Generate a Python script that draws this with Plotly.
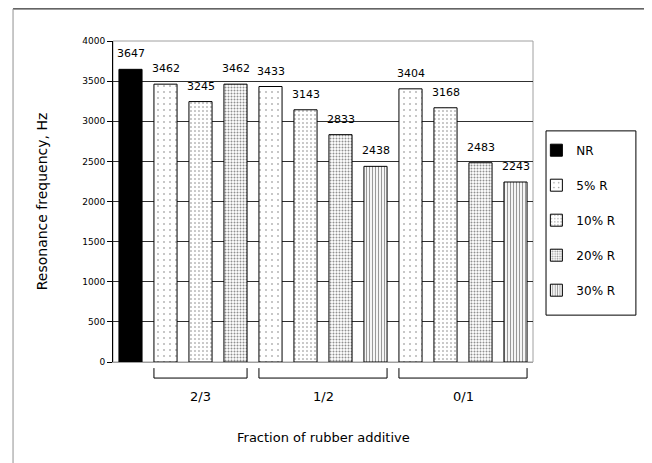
import plotly.graph_objs as go

# data
groups = ["2/3", "1/2", "0/1"]
nr_name = "NR"
nr_value = 3647
r5 = [3462, 3433, 3404]
r10 = [3245, 3143, 3168]
r20 = [3462, 2833, 2483]
r30 = [None, 2438, 2243]
series_names = ["5% R", "10% R", "20% R", "30% R"]
yticks = [0, 500, 1000, 1500, 2000, 2500, 3000, 3500, 4000]

series_values = [r5, r10, r20, r30]
patterns = [
    dict(shape=".", size=6, solidity=0.06, fgcolor="black", bgcolor="white"),
    dict(shape=".", size=4, solidity=0.12, fgcolor="black", bgcolor="white"),
    dict(shape=".", size=3, solidity=0.35, fgcolor="#222222", bgcolor="white"),
    dict(shape="|", size=3, solidity=0.4, fgcolor="#333333", bgcolor="white"),
]

# build the slot categories: NR first, then each group's bars
categories = [nr_name]
group_slots = {}
series_x = [[] for _ in series_names]
series_y = [[] for _ in series_names]
for gi, g in enumerate(groups):
    start = len(categories)
    for si, vals in enumerate(series_values):
        if vals[gi] is None:
            continue
        cat = "{} {}".format(g, series_names[si])
        categories.append(cat)
        series_x[si].append(cat)
        series_y[si].append(vals[gi])
    group_slots[g] = (start, len(categories) - 1)

font = "DejaVu Sans"
fig = go.Figure()

fig.add_trace(go.Bar(
    x=[nr_name], y=[nr_value], name=nr_name,
    marker=dict(color="black", line=dict(color="black", width=1)),
    legendgroup="a"))

for si, name in enumerate(series_names):
    fig.add_trace(go.Bar(
        x=series_x[si], y=series_y[si], name=name,
        marker=dict(color="white", pattern=patterns[si], line=dict(color="black", width=1)),
        legendgroup=str(si)))

shapes = []
annotations = []

# value labels above the bars
all_x = [nr_name] + [x for xs in series_x for x in xs]
all_y = [nr_value] + [y for ys in series_y for y in ys]
for x, y in zip(all_x, all_y):
    annotations.append(dict(x=x, y=y, xref="x", yref="y", text=str(y), showarrow=False,
                            yanchor="bottom", yshift=7, font=dict(size=11, color="black", family=font)))

# plot area border (gray top/right)
shapes.append(dict(type="rect", xref="paper", yref="paper", x0=0, x1=1, y0=0, y1=1,
                   line=dict(color="#a0a0a0", width=1), layer="below"))
# outer frame (only top and left show)
shapes.append(dict(type="line", xref="paper", yref="paper", x0=-0.238, x1=1.3, y0=1.1, y1=1.1,
                   line=dict(color="black", width=1)))
shapes.append(dict(type="line", xref="paper", yref="paper", x0=-0.238, x1=-0.238, y0=-0.4, y1=1.1,
                   line=dict(color="#909090", width=1)))
# legend box
shapes.append(dict(type="rect", xref="paper", yref="paper", x0=1.031, x1=1.245, y0=0.146, y1=0.72,
                   line=dict(color="black", width=1)))

for g in groups:
    a, b = group_slots[g]
    x0 = a - 0.33
    x1 = b + 0.33
    shapes.append(dict(type="path", xref="x", yref="paper",
                       path="M {} -0.019 L {} -0.05 L {} -0.05 L {} -0.019".format(x0, x0, x1, x1),
                       line=dict(color="black", width=1)))
    annotations.append(dict(x=(a + b) / 2.0, y=-0.109, xref="x", yref="paper", text=g,
                            yanchor="middle", showarrow=False,
                            font=dict(size=13, color="black", family=font)))

annotations.append(dict(x=0.5, y=-0.234, xref="paper", yref="paper", text="Fraction of rubber additive",
                        yanchor="middle", showarrow=False,
                        font=dict(size=13, color="black", family=font)))

fig.update_layout(
    width=652, height=463,
    margin=dict(l=105, r=127, t=33, b=109, autoexpand=False),
    paper_bgcolor="white", plot_bgcolor="white",
    barmode="overlay", bargap=0.34,
    font=dict(family=font, size=10, color="black"),
    showlegend=True,
    legend=dict(x=1.008, y=0.705, xanchor="left", yanchor="top",
                borderwidth=0, bgcolor="rgba(0,0,0,0)", font=dict(size=12, family=font),
                traceorder="grouped", tracegroupgap=16),
    shapes=shapes, annotations=annotations,
)
fig.update_xaxes(type="category", categoryorder="array", categoryarray=categories,
                 showticklabels=False, ticks="", showline=True, linecolor="#a0a0a0",
                 showgrid=False, range=[-0.5, len(categories) - 0.5], automargin=False)
fig.update_yaxes(range=[0, 4000], tickvals=yticks, showgrid=True, gridcolor="#303030",
                 gridwidth=1, showline=True, linecolor="black", ticks="outside", ticklen=5,
                 tickcolor="black", tickfont=dict(size=9, family=font), zeroline=False,
                 automargin=False,
                 title=dict(text="Resonance frequency, Hz", font=dict(size=14, family=font), standoff=31))

fig.write_html("out.html")
